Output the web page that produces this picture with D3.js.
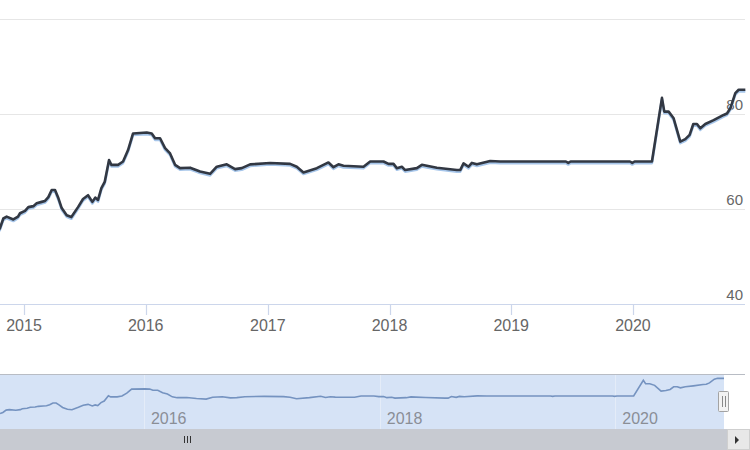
<!DOCTYPE html>
<html>
<head>
<meta charset="utf-8">
<script src="https://cdn.jsdelivr.net/npm/d3@7"></script>
<style>
  html, body { margin: 0; padding: 0; background: #fff; }
  svg { display: block; font-family: "Liberation Sans", Arial, sans-serif; }
</style>
</head>
<body>
<svg id="chart" width="750" height="450"></svg>
<script>
// ---------- data ----------
const dates = ["2014-10-12","2014-10-21","2014-10-31","2014-11-10","2014-11-30","2014-12-14","2014-12-20",
"2015-01-04","2015-01-14","2015-01-29","2015-02-08","2015-02-23","2015-03-05","2015-03-15","2015-03-25",
"2015-04-04","2015-04-14","2015-04-24","2015-05-09","2015-05-23","2015-06-12","2015-06-27","2015-07-12",
"2015-07-25","2015-08-03","2015-08-11","2015-08-21","2015-08-31","2015-09-13","2015-09-20","2015-10-10",
"2015-10-25","2015-11-09","2015-11-24","2016-01-04","2016-01-19","2016-01-29","2016-02-13","2016-02-28",
"2016-03-14","2016-03-29","2016-04-13","2016-05-13","2016-06-12","2016-07-12","2016-08-01","2016-08-31",
"2016-09-25","2016-10-15","2016-11-09","2017-01-08","2017-03-09","2017-03-29","2017-04-18","2017-05-28",
"2017-07-02","2017-07-17","2017-08-01","2017-08-16","2017-10-15","2017-11-04","2017-12-14","2017-12-29",
"2018-01-13","2018-01-23","2018-02-07","2018-02-17","2018-03-24","2018-04-08","2018-04-23","2018-05-23",
"2018-07-22","2018-08-01","2018-08-11","2018-08-26","2018-09-05","2018-09-20","2018-10-30","2018-11-29",
"2019-06-14","2019-06-21","2019-06-28","2019-12-23","2019-12-30","2020-01-06","2020-02-27","2020-03-28",
"2020-04-04","2020-04-17","2020-05-02","2020-05-22","2020-06-06","2020-06-19","2020-06-30","2020-07-11",
"2020-07-21","2020-08-05","2020-08-30","2020-09-29","2020-10-09","2020-10-19","2020-11-03","2020-11-13",
"2020-12-03"];
const values = [55.0,56.0,58.0,58.4,57.8,58.4,59.1,
59.6,60.4,60.6,61.2,61.5,61.7,62.5,64.0,
64.0,62.3,60.2,58.7,58.3,60.4,62.1,62.9,
61.5,62.4,61.9,64.4,65.7,70.3,69.3,69.3,
70.0,72.4,75.9,76.1,75.9,74.9,74.9,72.8,
71.7,69.3,68.6,68.7,67.9,67.4,68.9,69.4,
68.4,68.6,69.4,69.7,69.5,68.9,67.7,68.6,
69.8,68.8,69.4,69.1,68.9,70.0,70.0,69.5,
69.5,68.6,68.9,68.2,68.6,69.3,69.1,68.7,
68.2,68.2,69.6,68.9,69.7,69.4,70.1,70.0,
70.0,69.7,70.0,70.0,69.7,70.0,70.0,83.4,
80.5,80.5,79.1,74.2,74.7,75.6,77.9,77.9,
77.0,77.9,78.7,79.8,80.1,81.2,84.4,85.1,
85.1];
const yTicks = [40, 60, 80, 100];
const yLabels = [40, 60, 80];
const xTickYears = [2015, 2016, 2017, 2018, 2019, 2020];
const navTickYears = [2016, 2018, 2020];

// ---------- setup ----------
const parse = d3.utcParse("%Y-%m-%d");
const data = dates.map((d, i) => ({ date: parse(d), value: values[i] }));
const svg = d3.select("#chart");

// main scales
const x = d3.scaleUtc().domain([parse("2014-10-21"), parse("2020-12-17")]).range([0, 750]);
const y = d3.scaleLinear().domain([40, 100]).range([304, 19]);

// gridlines
svg.append("g").selectAll("line").data(yTicks).join("line")
  .attr("x1", 0).attr("x2", 745)
  .attr("y1", d => Math.round(y(d)) + 0.5).attr("y2", d => Math.round(y(d)) + 0.5)
  .attr("stroke", d => d === 40 ? "#ccd6eb" : "#e6e6e6").attr("stroke-width", 1.2);

// y labels
svg.append("g").selectAll("text").data(yLabels).join("text")
  .attr("x", 743).attr("y", d => y(d) - 4)
  .attr("text-anchor", "end").attr("font-size", 15).attr("fill", "#666")
  .text(d => d);

// x axis ticks + labels
const xa = svg.append("g");
xa.selectAll("line").data(xTickYears).join("line")
  .attr("x1", d => Math.round(x(Date.UTC(d, 0, 1))) + 0.5)
  .attr("x2", d => Math.round(x(Date.UTC(d, 0, 1))) + 0.5)
  .attr("y1", 304).attr("y2", 315)
  .attr("stroke", "#ccd6eb").attr("stroke-width", 1.2);
xa.selectAll("text").data(xTickYears).join("text")
  .attr("x", d => x(Date.UTC(d, 0, 1))).attr("y", 331)
  .attr("text-anchor", "middle").attr("font-size", 16).attr("fill", "#666")
  .text(d => d);

// main line
svg.append("clipPath").attr("id", "clip").append("rect")
  .attr("x", 0).attr("y", 0).attr("width", 750).attr("height", 320);
const line = d3.line().x(d => x(d.date)).y(d => y(d.value)).curve(d3.curveLinear);
const g = svg.append("g").attr("clip-path", "url(#clip)");
g.append("path").datum(data).attr("d", line)
  .attr("fill", "none").attr("stroke", "#a7c6ea").attr("stroke-width", 2.6)
  .attr("transform", "translate(0,1.6)").attr("stroke-linejoin", "round");
g.append("path").datum(data).attr("d", line)
  .attr("fill", "none").attr("stroke", "#323843").attr("stroke-width", 2.6)
  .attr("stroke-linejoin", "round");

// ---------- navigator ----------
const nx = d3.scaleUtc().domain([parse("2014-10-12"), parse("2020-12-03")]).range([0, 724]);
const ny = d3.scaleLinear().domain([41, 88.8]).range([430, 374]);

svg.append("rect").attr("x", 0).attr("y", 374).attr("width", 724).attr("height", 55)
  .attr("fill", "#d6e3f6");
svg.append("g").selectAll("line").data(navTickYears).join("line")
  .attr("x1", d => Math.round(nx(Date.UTC(d, 0, 1))) + 0.5)
  .attr("x2", d => Math.round(nx(Date.UTC(d, 0, 1))) + 0.5)
  .attr("y1", 374).attr("y2", 429)
  .attr("stroke", "#e4ecf8").attr("stroke-width", 1);
svg.append("g").selectAll("text").data(navTickYears).join("text")
  .attr("x", d => nx(Date.UTC(d, 0, 1)) + 7).attr("y", 424)
  .attr("font-size", 16).attr("fill", "#8a8e96")
  .text(d => d);
const nline = d3.line().x(d => nx(d.date)).y(d => ny(d.value));
svg.append("path").datum(data).attr("d", nline)
  .attr("fill", "none").attr("stroke", "#7593c0").attr("stroke-width", 1.6);

// outline
svg.append("line").attr("x1", 0).attr("x2", 745).attr("y1", 374.5).attr("y2", 374.5)
  .attr("stroke", "#b8bcc4").attr("stroke-width", 1);

// handle
svg.append("rect").attr("x", 718.5).attr("y", 391.5).attr("width", 10).attr("height", 20)
  .attr("fill", "#f2f2f2").attr("stroke", "#a3a3a3").attr("rx", 1);
svg.append("g").selectAll("line").data([722, 725]).join("line")
  .attr("x1", d => d + 0.5).attr("x2", d => d + 0.5).attr("y1", 396).attr("y2", 407)
  .attr("stroke", "#888").attr("stroke-width", 1);

// scrollbar
svg.append("rect").attr("x", 0).attr("y", 429).attr("width", 727).attr("height", 21)
  .attr("fill", "#c7cad1");
svg.append("g").selectAll("line").data([184, 187, 190]).join("line")
  .attr("x1", d => d + 0.5).attr("x2", d => d + 0.5).attr("y1", 436).attr("y2", 443)
  .attr("stroke", "#333").attr("stroke-width", 1);
svg.append("rect").attr("x", 727.5).attr("y", 429.5).attr("width", 22).attr("height", 20)
  .attr("fill", "#e8e8e8").attr("stroke", "#cfcfcf");
svg.append("path").attr("d", "M735,436 L739,440 L735,444 Z").attr("fill", "#333");
</script>
</body>
</html>
